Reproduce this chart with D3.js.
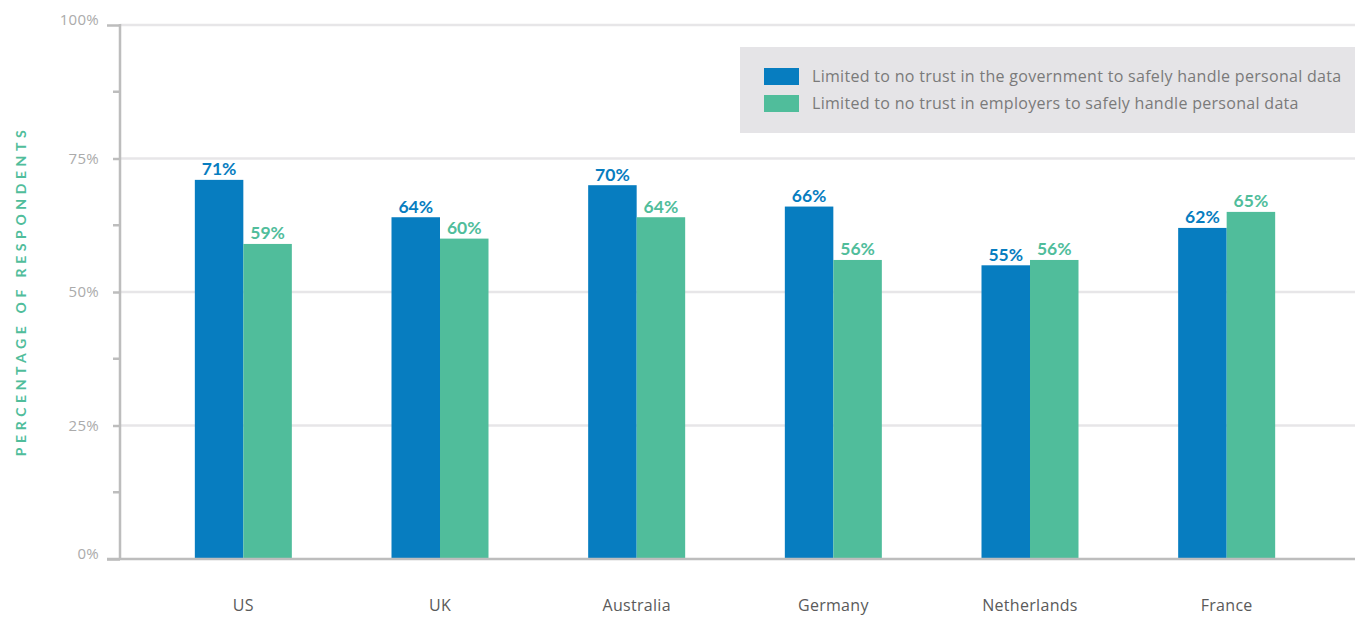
<!DOCTYPE html>
<html>
<head>
<meta charset="utf-8">
<script src="https://cdn.jsdelivr.net/npm/d3@7"></script>
<style>
  html, body { margin: 0; padding: 0; background: #fff; }
  svg { display: block; font-family: "Open Sans", "Lato", sans-serif; }
</style>
</head>
<body>
<svg id="chart" width="1355" height="617"></svg>
<script>
const countries = ["US", "UK", "Australia", "Germany", "Netherlands", "France"];
const governmentTrust = [71, 64, 70, 66, 55, 62];
const employerTrust = [59, 60, 64, 56, 56, 65];
const seriesNames = [
  "Limited to no trust in the government to safely handle personal data",
  "Limited to no trust in employers to safely handle personal data"
];
const yTicks = [0, 25, 50, 75, 100];
const yMinorTicks = [12.5, 37.5, 62.5, 87.5];

const blue = "#077dc0", green = "#50bd9b";
const colors = [blue, green];

const svg = d3.select("#chart");
const W = 1355, H = 617;
const plotLeft = 120, plotRight = W, plotTop = 25, plotBottom = 559;

const x = d3.scaleBand().domain(countries).range([145, 1325]).paddingInner(0).paddingOuter(0);
const barW = 48.5;
const y = d3.scaleLinear().domain([0, 100]).range([plotBottom, plotTop]);

// horizontal gridlines
svg.append("g").selectAll("line").data(yTicks.filter(d => d > 0)).join("line")
  .attr("x1", plotLeft).attr("x2", plotRight)
  .attr("y1", d => y(d)).attr("y2", d => y(d))
  .attr("stroke", "#e7e6e8").attr("stroke-width", 2.5);

// y axis
const yAxis = d3.axisLeft(y).tickValues(yTicks).tickSize(13).tickFormat(d => d + "%").tickPadding(8);
const gy = svg.append("g").attr("transform", `translate(${plotLeft},0)`).call(yAxis);
gy.select(".domain").remove();
gy.selectAll(".tick line").attr("stroke", "#bdbdbd").attr("stroke-width", 2.5)
  .attr("x2", d => (d === 100 || d === 0) ? -13 : -7);
gy.selectAll(".tick text")
  .attr("fill", "#ababab").style("font-size", "15px")
  .style("letter-spacing", "0.3px")
  .style("font-family", "'Open Sans', sans-serif")
  .attr("x", -21)
  .attr("dy", "0.32em");
gy.selectAll(".tick").filter(d => d === 100 || d === 0).select("text")
  .attr("transform", "translate(0,-5)");
svg.append("g").selectAll("line").data(yMinorTicks).join("line")
  .attr("x1", plotLeft - 7).attr("x2", plotLeft)
  .attr("y1", d => y(d)).attr("y2", d => y(d))
  .attr("stroke", "#bdbdbd").attr("stroke-width", 2.5);
svg.append("line").attr("x1", plotLeft).attr("x2", plotLeft).attr("y1", y(100) - 1).attr("y2", y(0))
  .attr("stroke", "#bdbdbd").attr("stroke-width", 2.5);

// bars with value labels
const series = [governmentTrust, employerTrust];
series.forEach((vals, si) => {
  const g = svg.append("g");
  g.selectAll("rect").data(countries).join("rect")
    .attr("x", d => x(d) + x.bandwidth() / 2 - barW + si * barW)
    .attr("width", barW)
    .attr("y", (d, i) => y(vals[i]))
    .attr("height", (d, i) => y(0) - y(vals[i]))
    .attr("fill", colors[si]);
  g.selectAll("text").data(countries).join("text")
    .attr("x", d => x(d) + x.bandwidth() / 2 - barW / 2 + si * barW)
    .attr("y", (d, i) => y(vals[i]) - 4.5)
    .attr("text-anchor", "middle")
    .attr("fill", colors[si])
    .style("font-family", "Lato, sans-serif")
    .style("font-size", "17.5px").style("font-weight", "bold")
    .text((d, i) => vals[i] + "%");
});

// baseline
svg.append("line").attr("x1", 107).attr("x2", plotRight).attr("y1", y(0)).attr("y2", y(0))
  .attr("stroke", "#bdbdbd").attr("stroke-width", 2.5);

// x axis labels
const xAxis = d3.axisBottom(x).tickSize(0).tickPadding(0);
const gx = svg.append("g").attr("transform", `translate(0,${plotBottom})`).call(xAxis);
gx.select(".domain").remove();
gx.selectAll(".tick text").attr("y", 52).attr("dy", 0)
  .attr("fill", "#5a5a5a").style("font-size", "16px")
  .style("letter-spacing", "0.3px")
  .style("font-family", "'Open Sans', sans-serif");

// y axis title
svg.append("text")
  .attr("transform", `translate(26,291) rotate(-90)`)
  .attr("text-anchor", "middle")
  .attr("fill", green).style("font-size", "14px").style("font-weight", "bold")
  .style("font-family", "Lato, sans-serif")
  .style("letter-spacing", "4.6px")
  .text("PERCENTAGE OF RESPONDENTS");

// legend
const lg = svg.append("g");
lg.append("rect").attr("x", 740).attr("y", 47).attr("width", W - 740).attr("height", 86).attr("fill", "#e5e4e7");
seriesNames.forEach((name, i) => {
  lg.append("rect").attr("x", 764).attr("y", 68 + i * 27).attr("width", 35).attr("height", 17).attr("fill", colors[i]);
  lg.append("text").attr("x", 812).attr("y", 76.5 + i * 27).attr("dy", "0.35em")
    .attr("fill", "#7a7a7a").style("font-size", "16px").style("letter-spacing", "0.3px").text(name);
});
</script>
</body>
</html>
